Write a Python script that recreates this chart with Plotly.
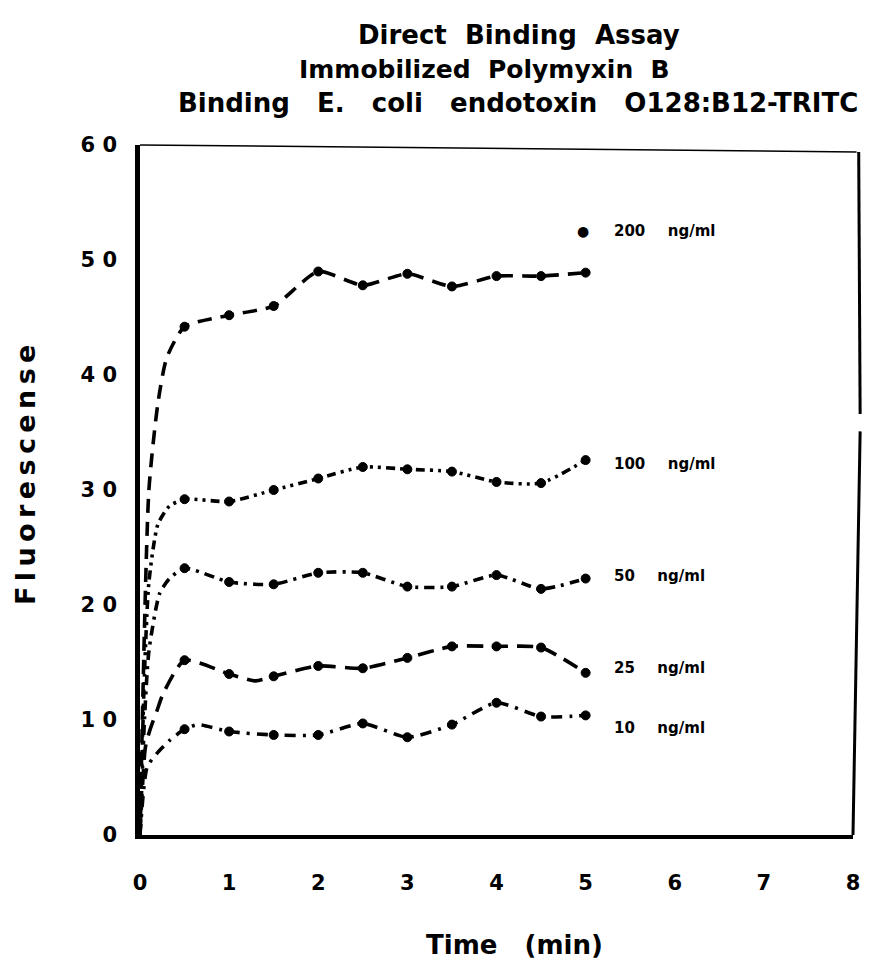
import plotly.graph_objects as go

# ---- data ----
time_200 = [0, 0.1, 0.2, 0.3, 0.5, 1.0, 1.5, 2.0, 2.5, 3.0, 3.5, 4.0, 4.5, 5.0]
fl_200 = [0, 30, 37.5, 41.5, 44.2, 45.2, 46.0, 49.0, 47.8, 48.8, 47.7, 48.6, 48.6, 48.9]

time_100 = [0, 0.05, 0.1, 0.2, 0.33, 0.5, 1.0, 1.5, 2.0, 2.5, 3.0, 3.5, 4.0, 4.5, 5.0]
fl_100 = [0, 14, 22, 27, 28.6, 29.2, 29.0, 30.0, 31.0, 32.0, 31.8, 31.6, 30.7, 30.6, 32.6]

time_50 = [0, 0.05, 0.1, 0.22, 0.33, 0.5, 1.0, 1.5, 2.0, 2.5, 3.0, 3.5, 4.0, 4.5, 5.0]
fl_50 = [0, 10, 16, 21, 22.3, 23.2, 22.0, 21.8, 22.8, 22.8, 21.6, 21.6, 22.6, 21.4, 22.3]

time_25 = [0, 0.06, 0.11, 0.19, 0.26, 0.5, 1.0, 1.3, 1.5, 2.0, 2.5, 3.0, 3.5, 4.0, 4.5, 5.0]
fl_25 = [0, 7.6, 9.1, 10.8, 12.3, 15.2, 14.0, 13.4, 13.8, 14.7, 14.5, 15.4, 16.4, 16.4, 16.3, 14.1]

time_10 = [0, 0.08, 0.19, 0.33, 0.5, 0.65, 1.0, 1.5, 2.0, 2.5, 3.0, 3.5, 4.0, 4.5, 5.0]
fl_10 = [0, 5.9, 7.1, 8.2, 9.2, 9.6, 9.0, 8.7, 8.7, 9.7, 8.5, 9.6, 11.5, 10.3, 10.4]

series_conc = ["200", "100", "50", "25", "10"]
label_y = [52.5, 32.3, 22.5, 14.5, 9.3]

x_ticks = [0, 1, 2, 3, 4, 5, 6, 7, 8]
y_ticks = [0, 10, 20, 30, 40, 50, 60]
y_ticktext = ["0", "1 0", "2 0", "3 0", "4 0", "5 0", "6 0"]

FONT = "DejaVu Sans"

series = [
    (time_200, fl_200, "14px,9px"),
    (time_100, fl_100, "3px,5px,3px,5px,9px,5px"),
    (time_50, fl_50, "10px,6px,3px,6px"),
    (time_25, fl_25, "16px,9px"),
    (time_10, fl_10, "11px,7px,3px,7px"),
]

fig = go.Figure()
for xs, ys, dash in series:
    sizes = [9 if (t >= 0.45 and abs(t * 2 - round(t * 2)) < 0.01) else 0 for t in xs]
    fig.add_trace(go.Scatter(
        x=xs, y=ys, mode="lines+markers",
        line=dict(color="black", width=3.6, dash=dash, shape="spline", smoothing=0.6),
        marker=dict(color="black", size=sizes, symbol="circle", opacity=1,
                    line=dict(width=1, color="black")),
        showlegend=False, hoverinfo="skip",
    ))

annotations = []
for conc, yv in zip(series_conc, label_y):
    annotations.append(dict(
        x=5.3, y=yv, xref="x", yref="y",
        text="<b>" + conc + "\u2003\u2002ng/ml</b>",
        showarrow=False, xanchor="left", yanchor="middle",
        font=dict(family=FONT, size=15, color="black"),
    ))
# dot symbol before the 200 label
annotations.append(dict(x=4.97, y=52.5, xref="x", yref="y", text="●", showarrow=False,
                        xanchor="center", yanchor="middle",
                        font=dict(family=FONT, size=14, color="black")))

title_lines = ["Direct  Binding  Assay", "Immobilized  Polymyxin  B",
               "Binding   E.   coli   endotoxin   O128:B12-TRITC"]
title_x = [520, 485, 519]
title_size = [26, 25, 26]
for i, (t, cx, fs) in enumerate(zip(title_lines, title_x, title_size)):
    annotations.append(dict(
        x=(cx - 140) / 715, y=1.0, xref="paper", yref="paper", yshift=110 - i * 34,
        text="<b>" + t + "</b>", showarrow=False, xanchor="center", yanchor="middle",
        font=dict(family=FONT, size=fs, color="black"),
    ))

# x-axis title
annotations.append(dict(
    x=(516 - 140) / 715, y=0, xref="paper", yref="paper", yshift=-110,
    text="<b>Time   (min)</b>", showarrow=False, xanchor="center", yanchor="middle",
    font=dict(family=FONT, size=26, color="black"),
))
# y-axis title
annotations.append(dict(
    x=0, y=(835 - 475) / 690, xref="paper", yref="paper", xshift=-115,
    text="<b>" + "\u2009".join("Fluorescense") + "</b>", textangle=-90,
    showarrow=False, xanchor="center", yanchor="middle",
    font=dict(family=FONT, size=27, color="black"),
))

fig.update_layout(
    width=872, height=977,
    margin=dict(l=140, r=17, t=145, b=142),
    paper_bgcolor="white", plot_bgcolor="white",
    annotations=annotations,
    shapes=[
        dict(type="line", xref="paper", yref="paper", x0=0, x1=1.005, y0=1, y1=0.99,
             line=dict(color="black", width=1.5)),
        dict(type="line", xref="paper", yref="paper", x0=1.008, x1=1.01, y0=0.99, y1=0.61,
             line=dict(color="black", width=3)),
        dict(type="line", xref="paper", yref="paper", x0=1.01, x1=1.0, y0=0.585, y1=0.0,
             line=dict(color="black", width=3)),
    ],
)
fig.update_xaxes(
    range=[0, 8], tickvals=x_ticks, ticktext=["<b>%d</b>" % v for v in x_ticks],
    showgrid=False, zeroline=False, showline=True, linecolor="black", linewidth=3.5,
    ticks="", ticklabelstandoff=26,
    tickfont=dict(family=FONT, size=21, color="black"),
)
fig.update_yaxes(
    range=[0, 60], tickvals=y_ticks, ticktext=["<b>%s</b>" % t for t in y_ticktext],
    showgrid=False, zeroline=False, showline=True, linecolor="black", linewidth=4.5,
    ticks="", ticklabelstandoff=14,
    tickfont=dict(family=FONT, size=21, color="black"),
)

fig.write_html("out.html")
